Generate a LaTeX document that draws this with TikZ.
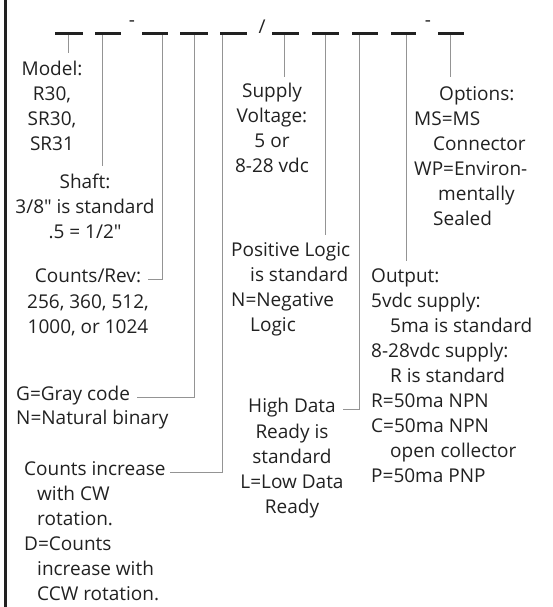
\documentclass[tikz,border=0pt]{standalone}
\usepackage{fontspec}
\setmainfont{Open Sans}
\usepackage{tikz}
\definecolor{inkgray}{gray}{0.13}
\definecolor{leadgray}{gray}{0.58}

\begin{document}
\begin{tikzpicture}[x=1pt, y=-1pt,
		every node/.style={inner sep=0pt, text=inkgray, font=\fontsize{19}{25}\selectfont},
		blank/.style={line width=3pt, color=inkgray},
		lead/.style={line width=1pt, color=leadgray, shorten >=7pt}]
			%%%%% START %%%%%
			\useasboundingbox (0, 0) rectangle (552, 607);
			
			\draw[line width=3pt, color=inkgray] (5.5, 0) -- (5.5, 607);
			
			% part number blanks
			\draw[blank] (55, 33.5) -- (83, 33.5);
			\draw[blank] (95, 33.5) -- (121, 33.5);
			\node[anchor=base] (dash1) at (132, 27) {-};
			\draw[blank] (142, 33.5) -- (168, 33.5);
			\draw[blank] (180, 33.5) -- (208, 33.5);
			\draw[blank] (220, 33.5) -- (247, 33.5);
			\node[anchor=base] (slash) at (262, 34) {/};
			\draw[blank] (272, 33.5) -- (299, 33.5);
			\draw[blank] (312, 33.5) -- (339, 33.5);
			\draw[blank] (352, 33.5) -- (378, 33.5);
			\draw[blank] (391, 33.5) -- (416, 33.5);
			\node[anchor=base] (dash2) at (428, 27) {-};
			\draw[blank] (438, 33.5) -- (464, 33.5);
			
			\coordinate (b1) at (68, 35);
			\coordinate (b2) at (102, 35);
			\coordinate (b3) at (162, 35);
			\coordinate (b4) at (194, 35);
			\coordinate (b5) at (222, 35);
			\coordinate (b6) at (284, 35);
			\coordinate (b7) at (325, 35);
			\coordinate (b8) at (359, 35);
			\coordinate (b9) at (406, 35);
			\coordinate (b10) at (450, 35);
			
			% left column (base = last line)
			\node[anchor=base, align=center] (model) at (52, 150) {Model:\\R30,\\SR30,\\SR31};
			\node[anchor=base, align=center] (shaft) at (85, 238) {Shaft:\\3/8″ is standard\\.5 = 1/2″};
			\node[anchor=base] (rev) at (88, 282) {Counts/Rev:};
			\node[anchor=base, align=center] (revlist) at (88, 333) {256, 360, 512,\\1000, or 1024};
			\node[anchor=base west] (gray) at (16, 400) {G=Gray code};
			\node[anchor=base west] (binary) at (16, 424) {N=Natural binary};
			\node[anchor=base west] (dir) at (24, 475) {Counts increase};
			\node[anchor=base west, align=left] (dirlist) at (24, 600) {\hspace*{13pt}with CW\\\hspace*{13pt}rotation.\\D=Counts\\\hspace*{13pt}increase with\\\hspace*{13pt}CCW rotation.};
			
			% middle column
			\node[anchor=base, align=center] (supply) at (272, 172) {Supply\\Voltage:\\5 or\\8-28 vdc};
			\node[anchor=base west, align=left] (logic) at (231, 331) {Positive Logic\\\hspace*{19pt}is standard\\N=Negative\\\hspace*{19pt}Logic};
			\node[anchor=base] (ready) at (292, 412) {High Data};
			\node[anchor=base, align=center] (readylist) at (292, 513) {Ready is\\standard\\L=Low Data\\Ready};
			
			% right column
			\node[anchor=base west, align=left] (options) at (414, 225) {\hspace*{25pt}Options:\\MS=MS\\\hspace*{19pt}Connector\\WP=Environ-\\\hspace*{24pt}mentally\\\hspace*{19pt}Sealed};
			\node[anchor=base west, align=left] (output) at (371, 482) {Output:\\5vdc supply:\\\hspace*{19pt}5ma is standard\\8-28vdc supply:\\\hspace*{19pt}R is standard\\R=50ma NPN\\C=50ma NPN\\\hspace*{19pt}open collector\\P=50ma PNP};
			
			% leader lines
			\draw[lead] (b1) -- (b1 |- model.north);
			\draw[lead] (b2) -- (b2 |- shaft.north);
			\draw[lead] (b3) |- (rev.mid east);
			\draw[lead] (b4) |- (gray.mid east);
			\draw[lead, shorten >=4pt] (b5) |- (dir.mid east);
			\draw[lead, shorten >=5pt] (b6) -- (b6 |- supply.north);
			\draw[lead] (b7) -- (b7 |- logic.north);
			\draw[lead] (b8) |- (ready.mid east);
			\draw[lead] (b9) -- (b9 |- output.north);
			\draw[lead, shorten >=9pt] (b10) -- (b10 |- options.north);
			
			%%%%% END %%%%%
\end{tikzpicture}
\end{document}
